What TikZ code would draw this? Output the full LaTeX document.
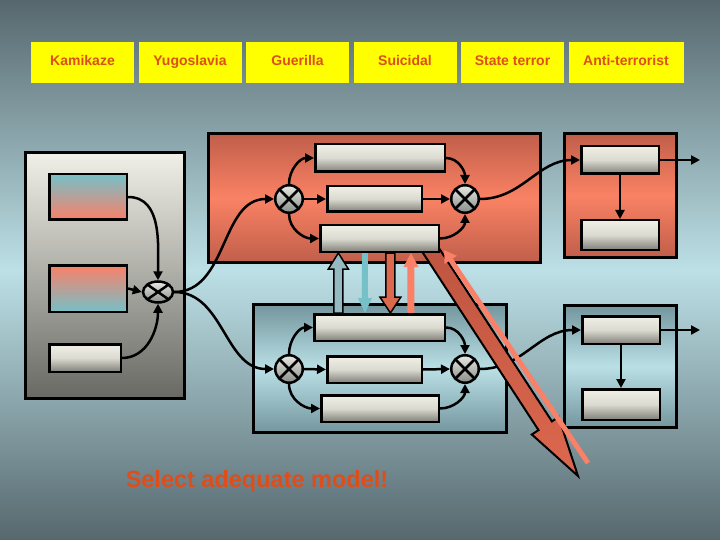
\documentclass[tikz,border=0pt]{standalone}
\usepackage{fontspec}
\setmainfont{Liberation Sans}
\usetikzlibrary{positioning,arrows.meta,shapes.geometric,calc}
\pgfdeclarelayer{panels}
\pgfdeclarelayer{front}
\pgfsetlayers{panels,main,front}
\definecolor{bgtop}{RGB}{86,104,110}
\definecolor{bgmid}{RGB}{188,224,230}
\definecolor{tagyellow}{RGB}{255,255,0}
\definecolor{tagtext}{RGB}{222,78,28}
\definecolor{redtop}{RGB}{192,94,74}
\definecolor{redmid}{RGB}{250,130,100}
\definecolor{bluetop}{RGB}{116,150,158}
\definecolor{bluemid}{RGB}{186,224,230}
\definecolor{greytop}{RGB}{240,240,232}
\definecolor{greybot}{RGB}{105,105,100}
\definecolor{bartop}{RGB}{240,240,230}
\definecolor{barmid}{RGB}{218,218,208}
\definecolor{barbot}{RGB}{128,128,122}
\definecolor{multtop}{RGB}{232,234,228}
\definecolor{multbot}{RGB}{135,140,135}
\definecolor{cyanish}{RGB}{118,192,200}
\definecolor{salmon}{RGB}{250,128,104}
\definecolor{hollowblue}{RGB}{150,186,192}
\definecolor{arrowred}{RGB}{220,104,78}
\definecolor{darkred}{RGB}{190,84,64}
\tikzset{
  tag/.style={fill=tagyellow,minimum width=103pt,minimum height=41pt,inner sep=0pt,
             outer sep=0pt,text height=10pt,text depth=3pt,
             font=\fontsize{14}{16}\selectfont\bfseries,text=tagtext},
  panel/.style={draw=black,line width=3pt,inner sep=0pt},
  redpanel/.style={panel,top color=redtop,bottom color=redtop,middle color=redmid},
  bluepanel/.style={panel,top color=bluetop,bottom color=bluetop,middle color=bluemid},
  greypanel/.style={panel,top color=greytop,bottom color=greybot},
  bar/.style={draw=black,line width=2.5pt,inner sep=0pt,
             top color=bartop,bottom color=barbot,middle color=barmid},
  mult/.style={circle,draw=black,line width=2.5pt,minimum size=27.5pt,inner sep=0pt,
              top color=multtop,bottom color=multbot,
              path picture={\draw[line width=2.5pt]
                (path picture bounding box.north west) -- (path picture bounding box.south east)
                (path picture bounding box.north east) -- (path picture bounding box.south west);}},
  conn/.style={-{Triangle[length=9pt,width=9pt]},line width=2.5pt},
}
% block arrow: style, from, to, half shaft, half head, head length
\newcommand{\blockarrow}[6]{%
  \coordinate (hb) at ($(#3)!#6!(#2)$);
  \path[#1] ($(#2)!#4!90:(#3)$) -- ($(hb)!#4!-90:(#2)$) -- ($(hb)!#5!-90:(#2)$)
    -- (#3) -- ($(hb)!#5!90:(#2)$) -- ($(hb)!#4!90:(#2)$) -- ($(#2)!#4!-90:(#3)$) -- cycle;}
\begin{document}
\begin{tikzpicture}[x=1pt,y=-1pt,node distance=4.5pt]
  \useasboundingbox (0,0) rectangle (720,540);
  \begin{pgfonlayer}{panels}
    \shade[top color=bgtop,bottom color=bgtop,middle color=bgmid] (0,0) rectangle (720,540);
    \node[greypanel,minimum width=159pt,minimum height=246pt] (inputs) at (105,275.5) {};
    \node[redpanel,minimum width=332pt,minimum height=129pt] (redmodel) at (374.5,198) {};
    \node[bluepanel,minimum width=253pt,minimum height=128pt] (bluemodel) at (380,368.5) {};
    \node[redpanel,minimum width=112pt,minimum height=124pt] (redout) at (620.5,195.5) {};
    \node[bluepanel,minimum width=112pt,minimum height=122pt] (blueout) at (620.5,366.5) {};
  \end{pgfonlayer}

  % top row of labels
  \node[tag] (kamikaze) at (82.5,62.5) {Kamikaze};
  \node[tag,right=of kamikaze] (yugoslavia) {Yugoslavia};
  \node[tag,right=of yugoslavia] (guerilla) {Guerilla};
  \node[tag,right=of guerilla] (suicidal) {Suicidal};
  \node[tag,right=of suicidal] (stateterror) {State terror};
  \node[tag,right=of stateterror,minimum width=115pt] (antiterror) {Anti-terrorist};

  \begin{pgfonlayer}{front}
    \node[bar,top color=cyanish,bottom color=salmon,minimum width=77.5pt,minimum height=45.5pt]
      (inup) at (88,197) {};
    \node[bar,top color=salmon,bottom color=cyanish,minimum width=77.5pt,minimum height=46.5pt]
      (indown) at (88,288.5) {};
    \node[bar,minimum width=71.5pt,minimum height=27.5pt] (inflat) at (85,358) {};
    \node[mult,ellipse,minimum width=30pt,minimum height=21pt] (lmix) at (158,292) {};

    \node[bar,minimum width=129.5pt,minimum height=27.5pt] (rtop) at (380,158) {};
    \node[bar,minimum width=94.5pt,minimum height=25.5pt] (rmid) at (374.5,199) {};
    \node[bar,minimum width=118.5pt,minimum height=26.5pt] (rbot) at (379.5,238.5) {};
    \node[mult] (rsplit) at (289,199) {};
    \node[mult] (rjoin) at (465,199) {};

    \node[bar,minimum width=130.5pt,minimum height=26.5pt] (btop) at (379.5,327.5) {};
    \node[bar,minimum width=94.5pt,minimum height=26.5pt] (bmid) at (374.5,369.5) {};
    \node[bar,minimum width=117.5pt,minimum height=26.5pt] (bbot) at (380,408.5) {};
    \node[mult] (bsplit) at (289,369) {};
    \node[mult] (bjoin) at (465,369) {};

    \node[bar,minimum width=77.5pt,minimum height=27.5pt] (srtop) at (620,160) {};
    \node[bar,minimum width=77.5pt,minimum height=29.5pt] (srbot) at (620,235) {};
    \node[bar,minimum width=77.5pt,minimum height=27.5pt] (sbtop) at (621,330) {};
    \node[bar,minimum width=77.5pt,minimum height=30.5pt] (sbbot) at (621,404.5) {};
  \end{pgfonlayer}

  % left block
  \draw[conn] (inup.east) to[out=0,in=90] (lmix.north);
  \draw[conn] (indown.east) -- (lmix.west);
  \draw[conn] (inflat.east) to[out=0,in=-90] (lmix.south);
  \draw[conn] (lmix.east) to[out=0,in=180] (rsplit.west);
  \draw[conn] (lmix.east) to[out=0,in=180] (bsplit.west);

  % the two models
  \foreach \m in {r,b}{
    \draw[conn] (\m split.north) to[out=90,in=180] (\m top.west);
    \draw[conn] (\m split.east) -- (\m mid.west);
    \draw[conn] (\m split.south) to[out=-90,in=180] (\m bot.west);
    \draw[conn] (\m top.east) to[out=0,in=90] (\m join.north);
    \draw[conn] (\m mid.east) -- (\m join.west);
    \draw[conn] (\m bot.east) to[out=0,in=-90] (\m join.south);
  }
  \draw[conn] (rjoin.east) to[out=0,in=180] (srtop.west);
  \draw[conn] (bjoin.east) to[out=0,in=180] (sbtop.west);

  % right blocks
  \coordinate (srexit) at ([xshift=40pt]srtop.east);
  \coordinate (sbexit) at ([xshift=39pt]sbtop.east);
  \draw[conn] (srtop.south) -- (srbot.north);
  \draw[conn] (srtop.east) -- (srexit);
  \draw[conn] (sbtop.south) -- (sbbot.north);
  \draw[conn] (sbtop.east) -- (sbexit);

  % exchange between the models
  \path (rbot.south west) -- (rbot.south east)
    coordinate[pos=0.16] (upa) coordinate[pos=0.38] (downa)
    coordinate[pos=0.59] (downb) coordinate[pos=0.76] (upb);
  \coordinate (upafoot) at (upa |- btop.north);
  \coordinate (downatip) at (downa |- btop.north);
  \coordinate (downbtip) at (downb |- btop.north);
  \coordinate (upbfoot) at (upb |- btop.north);
  \blockarrow{draw=black,line width=1.5pt,fill=hollowblue}{upafoot}{upa}{4.5pt}{10pt}{16pt}
  \blockarrow{fill=cyanish}{downa}{downatip}{3pt}{7pt}{15pt}
  \blockarrow{draw=black,line width=1.5pt,fill=arrowred}{downb}{downbtip}{4.5pt}{10.5pt}{16pt}
  \blockarrow{fill=salmon}{upbfoot}{upb}{3.5pt}{7.5pt}{14pt}

  % diagonal arrows
  \coordinate (dstart) at (428,246);
  \coordinate (dtip) at (578,476);
  \blockarrow{draw=black,line width=2pt,top color=darkred,bottom color=arrowred}{dstart}{dtip}{8pt}{16pt}{60pt}
  \coordinate (sfoot) at (588,463);
  \coordinate (shead) at (444,250);
  \draw[salmon,line width=5pt,-{Triangle[length=12pt,width=14pt]}] (sfoot) -- (shead);

  \node[font=\fontsize{23.5}{28}\selectfont\bfseries,text=tagtext] (select) at (257,481)
    {Select adequate model!};
\end{tikzpicture}
\end{document}
